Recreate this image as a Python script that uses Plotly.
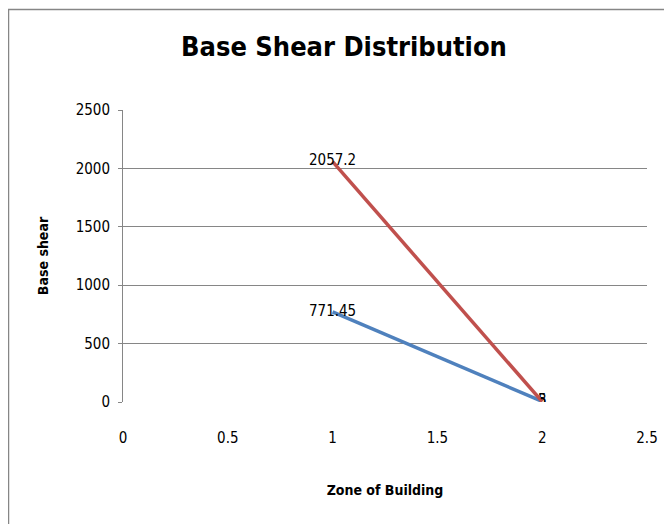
import plotly.graph_objects as go

zones = [1, 2]
series_blue = [771.45, 5]
series_red = [2057.2, 3]
blue_labels = ["771.45", "5"]
red_labels = ["2057.2", "3"]
x_ticks = [0, 0.5, 1, 1.5, 2, 2.5]
x_tick_text = ["0", "0.5", "1", "1.5", "2", "2.5"]
y_ticks = [0, 500, 1000, 1500, 2000, 2500]

FONT = "Liberation Sans Narrow, DejaVu Sans Condensed, Arial Narrow, Roboto, sans-serif"

L, R, T, B = 115, 33, 102, 130
W, H = 672, 524
PW, PH = W - L - R, H - T - B

fig = go.Figure()
fig.add_trace(go.Scatter(x=zones, y=series_blue, mode="lines+text", text=blue_labels,
                         textposition="middle center",
                         line=dict(color="#4F81BD", width=3.5),
                         textfont=dict(family=FONT, size=15, color="#000000"),
                         showlegend=False))
fig.add_trace(go.Scatter(x=zones, y=series_red, mode="lines+text", text=red_labels,
                         textposition="middle center",
                         line=dict(color="#C0504D", width=3.5),
                         textfont=dict(family=FONT, size=15, color="#000000"),
                         showlegend=False))

fig.update_layout(
    width=W, height=H,
    margin=dict(l=L, r=R, t=T, b=B),
    paper_bgcolor="white", plot_bgcolor="white",
    font=dict(family=FONT, size=14, color="#000000"),
    title=dict(text="<b>Base Shear Distribution</b>", x=336 / W, xanchor="center",
               y=1 - 39 / H, yanchor="middle",
               font=dict(family=FONT, size=27, color="#000000")),
    xaxis=dict(range=[0, 2.5], tickvals=x_ticks, ticktext=x_tick_text,
               showgrid=False, zeroline=False, showline=False, ticks="",
               ticklabelstandoff=25, tickfont=dict(size=15), automargin=False,
               title=dict(text="<b>Zone of Building</b>", font=dict(size=14), standoff=39)),
    yaxis=dict(range=[0, 2500], tickvals=y_ticks, showgrid=True, gridcolor="#868686",
               gridwidth=1, zeroline=False, showline=True, linecolor="#868686", linewidth=1,
               ticks="outside", ticklen=4, tickcolor="#868686", tickfont=dict(size=15),
               ticklabelstandoff=5, automargin=False,
               title=dict(text="<b>Base shear</b>", font=dict(size=14), standoff=23)),
    shapes=[dict(type="rect", xref="paper", yref="paper",
                 x0=-(L - 0.5) / PW, x1=1.3, y0=-0.6, y1=1 + (T - 1.5) / PH,
                 line=dict(color="#868686", width=1.5), fillcolor="rgba(0,0,0,0)")]
)

fig.write_html("out.html")
